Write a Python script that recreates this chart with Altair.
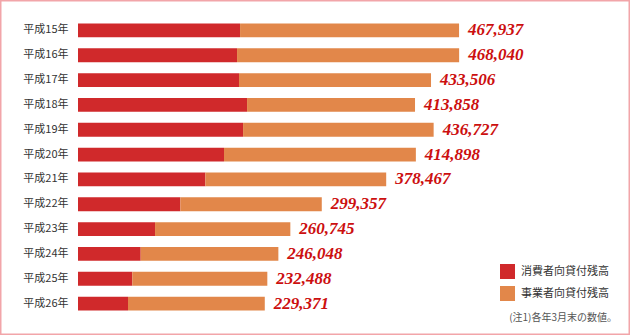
import altair as alt
import pandas as pd

years = ["平成15年", "平成16年", "平成17年", "平成18年", "平成19年", "平成20年",
         "平成21年", "平成22年", "平成23年", "平成24年", "平成25年", "平成26年"]
totals = [467937, 468040, 433506, 413858, 436727, 414898,
          378467, 299357, 260745, 246048, 232488, 229371]
consumer = [199000, 195300, 197700, 207600, 202700, 179300,
            156400, 125700, 94600, 77000, 66700, 61400]
series = ["消費者向貸付残高", "事業者向貸付残高"]
colors = ["#d0292b", "#e2874a"]
note = "(注1)各年3月末の数値。"

rows = []
for y, t, c in zip(years, totals, consumer):
    rows.append({"year": y, "series": series[0], "value": c, "ord": 0})
    rows.append({"year": y, "series": series[1], "value": t - c, "ord": 1})
df = pd.DataFrame(rows)
tot_df = pd.DataFrame({"year": years, "total": totals,
                       "label": [f"{v:,}" for v in totals]})

jp = "Noto Sans CJK JP"

yenc = alt.Y("year:N", sort=years,
             scale=alt.Scale(paddingInner=0.44, paddingOuter=0.22),
             axis=alt.Axis(title=None, ticks=False, domain=False, labelPadding=10,
                           labelFont=jp, labelFontSize=11, labelColor="#333333"))
xscale = alt.Scale(domain=[0, 614000], nice=False)

bars = alt.Chart(df).mark_bar().encode(
    x=alt.X("value:Q", stack="zero", scale=xscale, axis=None),
    y=yenc,
    color=alt.Color("series:N", scale=alt.Scale(domain=series, range=colors),
                    legend=alt.Legend(title=None, orient="none", legendX=422, legendY=246,
                                      symbolType="square", symbolSize=225,
                                      symbolStrokeWidth=0, labelFont=jp,
                                      labelFontSize=11, labelColor="#333333",
                                      rowPadding=7, padding=0, labelOffset=6)),
    order=alt.Order("ord:Q"),
)

labels = alt.Chart(tot_df).mark_text(
    align="left", baseline="middle", dx=9, font="Liberation Serif",
    fontStyle="italic", fontWeight="bold", fontSize=17, color="#cc0f0f"
).encode(
    x=alt.X("total:Q", scale=xscale),
    y=alt.Y("year:N", sort=years),
    text="label:N",
)

note_layer = alt.Chart(pd.DataFrame({"t": [note]})).mark_text(
    align="right", baseline="middle", font=jp, fontSize=10, color="#555555"
).encode(x=alt.value(539), y=alt.value(300), text="t:N")

frame = alt.Chart(pd.DataFrame({"a": [0]})).mark_rect(
    fill=None, stroke="#f2a5a9", strokeWidth=1.5
).encode(x=alt.value(-77.25), x2=alt.value(551.25), y=alt.value(-17.25), y2=alt.value(316.25))

chart = alt.layer(bars, labels, note_layer, frame).properties(
    width=500, height=298,
    autosize=alt.AutoSizeParams(type="none"),
    padding={"left": 78, "top": 18, "right": 52, "bottom": 19},
    background="white",
).configure_view(stroke=None)

chart.save("out.html", embed_options={"renderer": "svg", "actions": False})
